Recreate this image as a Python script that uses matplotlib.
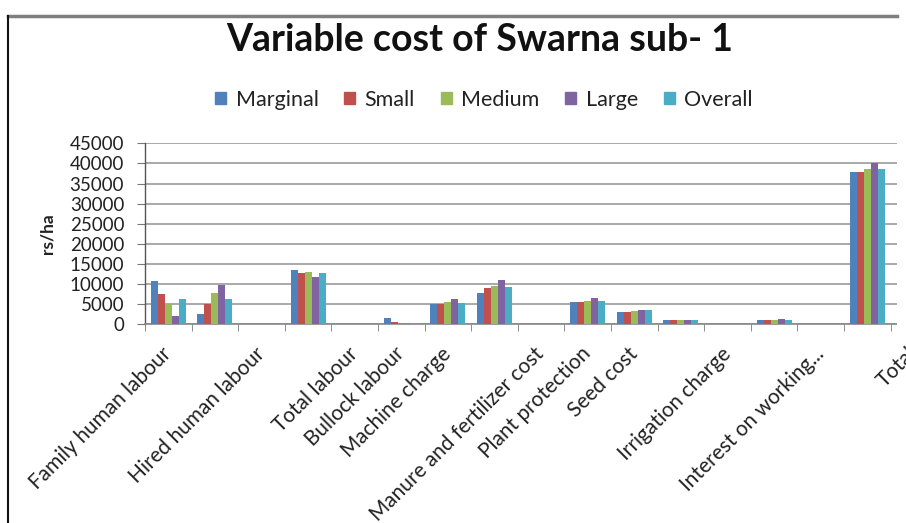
import numpy as np
import matplotlib
matplotlib.use("Agg")
import matplotlib.pyplot as plt
from matplotlib.lines import Line2D
from matplotlib.patches import Rectangle

plt.rcParams['font.family'] = ['Lato', 'DejaVu Sans']

# Category axis (blank entries are empty slots on the axis)
categories = ['Family human labour', '', 'Hired human labour', '', 'Total labour',
              'Bullock labour', 'Machine charge', '', 'Manure and fertilizer cost',
              'Plant protection', 'Seed cost', '', 'Irrigation charge', '',
              'Interest on working...', '', 'Total']

series_names = ['Marginal', 'Small', 'Medium', 'Large', 'Overall']

# Cost values in rs/ha for each slot on the category axis
marginal = [10800, 2500, 0, 13500, 0, 1500, 5050, 7700, 0, 5600, 3000, 950, 0, 1100, 0, 37800, 0]
small    = [7450, 5050, 0, 12850, 0, 650, 5050, 8950, 0, 5650, 3000, 950, 0, 1100, 0, 37750, 0]
medium   = [5050, 7850, 0, 12900, 0, 0, 5550, 9550, 0, 5900, 3300, 950, 0, 1150, 0, 38650, 0]
large    = [2050, 9800, 0, 11850, 0, 0, 6200, 11000, 0, 6450, 3450, 1000, 0, 1200, 0, 40050, 0]
overall  = [6300, 6200, 0, 12850, 0, 400, 5200, 9350, 0, 5850, 3450, 950, 0, 1150, 0, 38650, 0]

y_ticks = [0, 5000, 10000, 15000, 20000, 25000, 30000, 35000, 40000, 45000]

colors = ['#4F81BD', '#C0504D', '#9BBB59', '#8064A2', '#4BACC6']

W, H = 906, 523
fig = plt.figure(figsize=(W / 100, H / 100), dpi=100)
fig.patch.set_facecolor('white')

# plot area in pixels: left 145, bottom 324, slot width ~46.6 px
ax = fig.add_axes([145 / W, (H - 324.3) / H, 17 * 46.6 / W, 181 / H])

x = np.arange(len(categories))
bw = 0.151
data = [marginal, small, medium, large, overall]
for i, (name, vals, c) in enumerate(zip(series_names, data, colors)):
    ax.bar(x + (i - 2) * bw, vals, width=bw, color=c, label=name,
           edgecolor='none', zorder=3)

ax.set_xlim(-0.5, len(categories) - 0.5)
ax.set_ylim(0, 45000)
ax.set_yticks(y_ticks)
ax.set_yticklabels([str(v) for v in y_ticks], fontsize=13.5, color='#222222')
ax.yaxis.grid(True, color='#a3a3a3', linewidth=1.3, zorder=0)
ax.set_axisbelow(True)

ax.set_xticks(x)
ax.set_xticklabels(categories, rotation=45, ha='right', va='center',
                   rotation_mode='anchor', fontsize=15, color='#222222')
ax.set_xticks(np.arange(-0.5, len(categories), 1), minor=True)
ax.tick_params(axis='x', which='major', length=0, pad=19)
ax.tick_params(axis='x', which='minor', length=5, color='#777777', direction='out')
ax.tick_params(axis='y', length=6, color='#777777', direction='out', pad=9)

for s in ['top', 'right']:
    ax.spines[s].set_visible(False)
ax.spines['left'].set_color('#555555')
ax.spines['bottom'].set_color('#888888')
ax.spines['left'].set_linewidth(1.0)
ax.spines['bottom'].set_linewidth(1.2)

ax.set_ylabel('rs/ha', fontsize=12.5, fontweight='bold', color='#222222')
ax.yaxis.set_label_coords(-0.1136, 0.5)

fig.text(480 / W, 1 - 51 / H, 'Variable cost of Swarna sub- 1', ha='center',
         va='baseline', fontsize=27, fontweight='bold', color='#111111')

handles = [Rectangle((0, 0), 1, 1, color=c) for c in colors]
fig.legend(handles, series_names, loc='center', bbox_to_anchor=(484 / W, 1 - 100 / H),
           ncol=5, frameon=False, fontsize=15.5, handlelength=0.5, handleheight=0.5,
           handletextpad=0.45, columnspacing=1.2, labelcolor='#222222')

# chart frame edges; the plot area is cropped at the right side
fig.add_artist(Rectangle((897 / W, (H - 335) / H), 20 / W, 200 / H, transform=fig.transFigure,
                         facecolor='white', edgecolor='none', zorder=10))
fig.add_artist(Line2D([8 / W, 897 / W], [1 - 15.5 / H, 1 - 15.5 / H],
                      transform=fig.transFigure, color='#7f7f7f', linewidth=2.5, zorder=11))
fig.add_artist(Line2D([8 / W, 8 / W], [0, 1 - 15.5 / H],
                      transform=fig.transFigure, color='#111111', linewidth=1.5, zorder=11))

fig.savefig('out.png', dpi=100, facecolor='white')
